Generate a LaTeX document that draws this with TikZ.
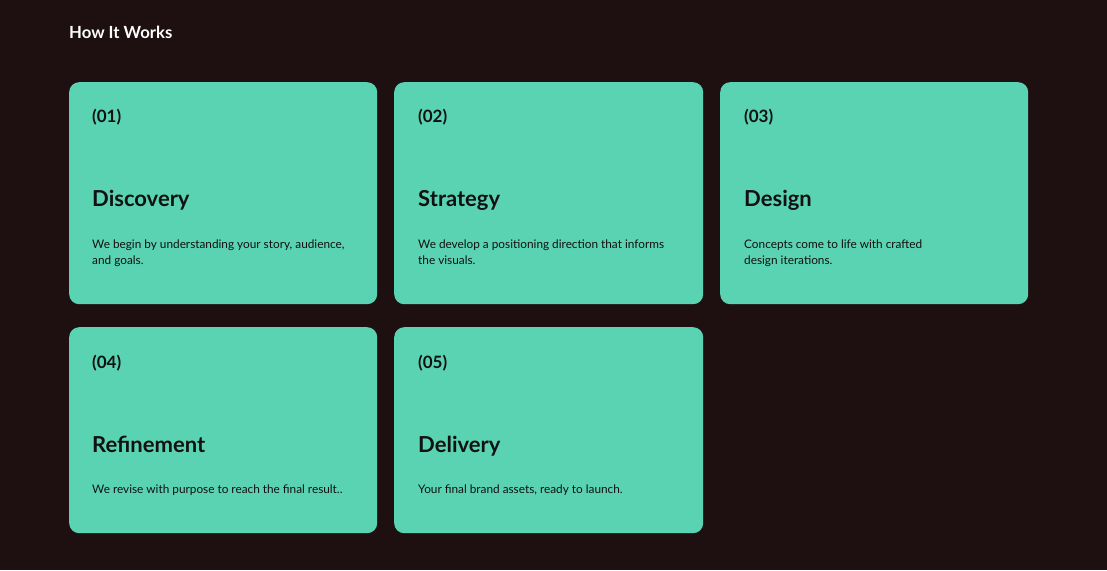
\documentclass[tikz,border=0pt]{standalone}
\usepackage{fontspec}
\setmainfont{Lato}
\definecolor{bg}{HTML}{1E1011}
\definecolor{cardfill}{HTML}{5AD3B2}
\definecolor{ink}{HTML}{111111}
\begin{document}
\begin{tikzpicture}[x=1pt,y=-1pt,
  card/.style={fill=cardfill, draw=none, rounded corners=10pt, anchor=north west, inner sep=0pt},
  numtxt/.style={anchor=base west, inner sep=0pt, text=ink, font=\fontsize{17}{20}\selectfont\bfseries},
  headtxt/.style={anchor=base west, inner sep=0pt, text=ink, font=\fontsize{22}{26}\selectfont\bfseries},
  desctxt/.style={anchor=base west, inner sep=0pt, text=ink, align=left, font=\fontsize{11.8}{16}\selectfont},
  pagetitle/.style={anchor=base west, inner sep=0pt, text=white, font=\fontsize{16.7}{20}\selectfont\bfseries}]
\fill[bg] (0,0) rectangle (1107,570);
\useasboundingbox (0,0) rectangle (1107,570);
\node[pagetitle] (title) at (69,38.3) {How It Works};
% cards row 1
\node[card, minimum width=308pt, minimum height=222pt] (c1) at (69,82) {};
\node[card, minimum width=309pt, minimum height=222pt] (c2) at (394,82) {};
\node[card, minimum width=308pt, minimum height=222pt] (c3) at (720,82) {};
% cards row 2
\node[card, minimum width=308pt, minimum height=206pt] (c4) at (69,327) {};
\node[card, minimum width=309pt, minimum height=206pt] (c5) at (394,327) {};
% card 1
\node[numtxt] (n1) at (92,122) {(01)};
\node[headtxt] (h1) at (92,206.5) {Discovery};
\node[desctxt] (d1) at (92,264) {We begin by understanding your story, audience,\\and goals.};
% card 2
\node[numtxt] (n2) at (418,122) {(02)};
\node[headtxt] (h2) at (418,206.5) {Strategy};
\node[desctxt] (d2) at (418,264) {We develop a positioning direction that informs\\the visuals.};
% card 3
\node[numtxt] (n3) at (744,122) {(03)};
\node[headtxt] (h3) at (744,206.5) {Design};
\node[desctxt] (d3) at (744,264) {Concepts come to life with crafted\\design iterations.};
% card 4
\node[numtxt] (n4) at (92,368) {(04)};
\node[headtxt] (h4) at (92,452) {Refinement};
\node[desctxt] (d4) at (92,493) {We revise with purpose to reach the final result..};
% card 5
\node[numtxt] (n5) at (418,368) {(05)};
\node[headtxt] (h5) at (418,452) {Delivery};
\node[desctxt] (d5) at (418,493) {Your final brand assets, ready to launch.};
\end{tikzpicture}
\end{document}
